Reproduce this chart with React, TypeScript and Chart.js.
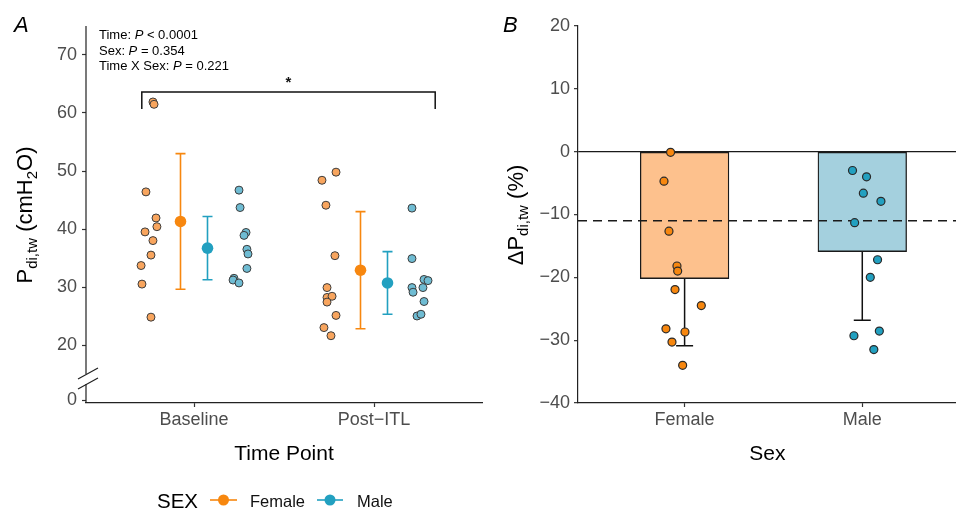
import React, { useEffect, useRef } from 'react';
import { Chart, registerables } from 'chart.js';

Chart.register(...registerables);

// ---------- Panel A data ----------
const timePoints = ['Baseline', 'Post\u2212ITL'];
const femaleBaseline = [61.9, 61.5, 46.4, 41.9, 40.4, 39.5, 38.0, 35.5, 33.7, 30.5, 24.8];
const femaleBaselineJitter = [-0.228, -0.222, -0.267, -0.211, -0.206, -0.272, -0.228, -0.239, -0.294, -0.289, -0.239];
const maleBaseline = [46.7, 43.7, 39.4, 38.9, 36.5, 35.7, 33.2, 31.5, 31.2, 30.7];
const maleBaselineJitter = [0.25, 0.256, 0.289, 0.278, 0.294, 0.3, 0.294, 0.222, 0.217, 0.25];
const femalePost = [48.4, 49.8, 44.1, 35.4, 29.9, 28.2, 28.4, 27.4, 25.1, 23.0, 21.6];
const femalePostJitter = [-0.289, -0.211, -0.267, -0.217, -0.261, -0.261, -0.233, -0.261, -0.211, -0.278, -0.239];
const malePost = [43.6, 34.9, 31.3, 31.1, 29.9, 29.1, 29.9, 27.5, 25.0, 25.3];
const malePostJitter = [0.211, 0.211, 0.278, 0.3, 0.211, 0.217, 0.272, 0.278, 0.239, 0.261];
const femaleMeanA = [41.3, 32.9];
const femaleSdA = [11.7, 10.1];
const maleMeanA = [36.7, 30.7];
const maleSdA = [5.45, 5.4];
const yTicksA = [20, 30, 40, 50, 60, 70];
const statLines = [
  ['Time: ', 'P', ' < 0.0001'],
  ['Sex: ', 'P', ' = 0.354'],
  ['Time X Sex: ', 'P', ' = 0.221'],
];

// ---------- Panel B data ----------
const sexes = ['Female', 'Male'];
const femaleChange = [-0.1, -4.7, -12.65, -18.2, -19.0, -21.95, -24.5, -28.2, -28.7, -30.3, -34.0];
const femaleChangeJitter = [-0.079, -0.116, -0.088, -0.043, -0.039, -0.054, 0.094, -0.105, 0.002, -0.071, -0.011];
const maleChange = [-3.0, -4.0, -6.6, -7.9, -11.3, -17.2, -20.0, -29.3, -28.55, -31.5];
const maleChangeJitter = [-0.055, 0.024, 0.006, 0.105, -0.043, 0.086, 0.045, -0.047, 0.096, 0.065];
const meanChange = [-20.2, -15.9];
const sdChange = [10.7, 10.95];
const referenceChange = -11;
const yTicksB = [-40, -30, -20, -10, 0, 10, 20];

// ---------- styling / layout constants ----------
const FONT = '"Liberation Sans", Arial, Helvetica, sans-serif';
const ORANGE = '#F7870F';
const BLUE = '#22A0C0';
const ORANGE_LIGHT = '#F8A55E';
const BLUE_LIGHT = '#6FBCD3';
const BAR_F = '#FDC18D';
const BAR_M = '#A4D0DE';
const AXIS = '#222222';
const TICK_TEXT = '#4D4D4D';
const DODGE = 0.075;
const BREAK_TICK = 10.5;
const A_X = { min: 0.4, max: 2.6 };
const A_Y = { min: 10, max: 75 };
const B_X = { min: 0.4, max: 2.532 };
const B_Y = { min: -40, max: 20 };
const BRACKET_X = [0.71, 2.34];
const BRACKET_Y = [63.6, 60.7];
const W_A = 490;
const W_B = 472; // a few px extra: Chart.js reserves a small right margin here
const H = 509;

const font = (size: number, italic = false, bold = false) =>
  `${italic ? 'italic ' : ''}${bold ? 'bold ' : ''}${size}px ${FONT}`;

type Seg = { t: string; size: number; italic?: boolean; dy?: number };

function drawSegs(ctx: CanvasRenderingContext2D, segs: Seg[], x: number, y: number, align: 'left' | 'center', color = '#000') {
  ctx.textAlign = 'left';
  ctx.textBaseline = 'alphabetic';
  ctx.fillStyle = color;
  let total = 0;
  for (const s of segs) {
    ctx.font = font(s.size, s.italic);
    total += ctx.measureText(s.t).width;
  }
  let cx = align === 'center' ? x - total / 2 : x;
  for (const s of segs) {
    ctx.font = font(s.size, s.italic);
    ctx.fillText(s.t, cx, y + (s.dy || 0));
    cx += ctx.measureText(s.t).width;
  }
}

function errorBar(ctx: CanvasRenderingContext2D, px: number, yTop: number, yBot: number, half: number) {
  ctx.beginPath();
  ctx.moveTo(px, yTop);
  ctx.lineTo(px, yBot);
  ctx.moveTo(px - half, yTop);
  ctx.lineTo(px + half, yTop);
  ctx.moveTo(px - half, yBot);
  ctx.lineTo(px + half, yBot);
  ctx.stroke();
}

const toPoints = (vals: number[], jit: number[], pos: number) => vals.map((v, i) => ({ x: pos + jit[i], y: v }));

const errorBarsA = {
  id: 'errorBarsA',
  beforeDatasetsDraw(chart: any) {
    const { ctx, scales } = chart;
    const x = scales.x, y = scales.y;
    ctx.save();
    ctx.lineWidth = 1.6;
    const groups = [
      { means: femaleMeanA, sds: femaleSdA, off: -DODGE, color: ORANGE },
      { means: maleMeanA, sds: maleSdA, off: DODGE, color: BLUE },
    ];
    for (const g of groups) {
      ctx.strokeStyle = g.color;
      g.means.forEach((m, i) => {
        const px = x.getPixelForValue(i + 1 + g.off);
        errorBar(ctx, px, y.getPixelForValue(m + g.sds[i]), y.getPixelForValue(m - g.sds[i]), 5);
      });
    }
    ctx.restore();
  },
};

const decorA = {
  id: 'decorA',
  afterDraw(chart: any) {
    const { ctx, chartArea: ca, scales } = chart;
    const x = scales.x, y = scales.y;
    ctx.save();
    // y axis line with break
    ctx.strokeStyle = AXIS;
    ctx.lineWidth = 1.2;
    ctx.beginPath();
    ctx.moveTo(ca.left, ca.top);
    ctx.lineTo(ca.left, ca.bottom - 29);
    ctx.moveTo(ca.left, ca.bottom - 19);
    ctx.lineTo(ca.left, ca.bottom);
    ctx.stroke();
    ctx.beginPath();
    ctx.moveTo(ca.left - 8, ca.bottom - 24);
    ctx.lineTo(ca.left + 12, ca.bottom - 35);
    ctx.moveTo(ca.left - 8, ca.bottom - 14);
    ctx.lineTo(ca.left + 12, ca.bottom - 25);
    ctx.stroke();

    // bracket + star
    const bx0 = x.getPixelForValue(BRACKET_X[0]);
    const bx1 = x.getPixelForValue(BRACKET_X[1]);
    const byTop = y.getPixelForValue(BRACKET_Y[0]);
    const byBot = y.getPixelForValue(BRACKET_Y[1]);
    ctx.strokeStyle = '#111';
    ctx.lineWidth = 1.5;
    ctx.beginPath();
    ctx.moveTo(bx0, byBot);
    ctx.lineTo(bx0, byTop);
    ctx.lineTo(bx1, byTop);
    ctx.lineTo(bx1, byBot);
    ctx.stroke();
    ctx.fillStyle = '#111';
    ctx.font = font(15, false, true);
    ctx.textAlign = 'center';
    ctx.textBaseline = 'alphabetic';
    ctx.fillText('*', (bx0 + bx1) / 2, byTop - 5);

    // stats text
    const baselines = [39, 54.5, 70];
    statLines.forEach((ln, i) => {
      drawSegs(ctx, [
        { t: ln[0], size: 13 },
        { t: ln[1], size: 13, italic: true },
        { t: ln[2], size: 13 },
      ], ca.left + 13, baselines[i], 'left', '#000');
    });

    // panel letter
    drawSegs(ctx, [{ t: 'A', size: 22, italic: true }], 14, 32, 'left', '#000');

    // y title
    ctx.save();
    ctx.translate(32, 215);
    ctx.rotate(-Math.PI / 2);
    drawSegs(ctx, [
      { t: 'P', size: 22 },
      { t: 'di,tw', size: 15, dy: 5 },
      { t: ' (cmH', size: 22 },
      { t: '2', size: 15, dy: 5 },
      { t: 'O)', size: 22 },
    ], 0, 0, 'center', '#000');
    ctx.restore();

    // x title
    drawSegs(ctx, [{ t: 'Time Point', size: 21 }], (ca.left + ca.right) / 2, 460, 'center', '#000');

    // legend
    drawSegs(ctx, [{ t: 'SEX', size: 20.5 }], 157, 508, 'left', '#000');
    const items = [
      { label: sexes[0], color: ORANGE, x0: 210, x1: 237, tx: 250 },
      { label: sexes[1], color: BLUE, x0: 317, x1: 343, tx: 357 },
    ];
    for (const it of items) {
      ctx.strokeStyle = it.color;
      ctx.lineWidth = 1.6;
      ctx.beginPath();
      ctx.moveTo(it.x0, 500);
      ctx.lineTo(it.x1, 500);
      ctx.stroke();
      ctx.fillStyle = it.color;
      ctx.beginPath();
      ctx.arc((it.x0 + it.x1) / 2, 500, 5.5, 0, Math.PI * 2);
      ctx.fill();
      drawSegs(ctx, [{ t: it.label, size: 16.5 }], it.tx, 507, 'left', '#111');
    }
    ctx.restore();
  },
};

const errorBarsB = {
  id: 'errorBarsB',
  beforeDatasetsDraw(chart: any) {
    const { ctx, scales } = chart;
    const x = scales.x, y = scales.y;
    ctx.save();
    ctx.strokeStyle = '#111';
    ctx.lineWidth = 1.5;
    meanChange.forEach((m, i) => {
      const px = x.getPixelForValue(i + 1);
      errorBar(ctx, px, y.getPixelForValue(m + sdChange[i]), y.getPixelForValue(m - sdChange[i]), 8.5);
    });
    ctx.restore();
  },
};

const decorB = {
  id: 'decorB',
  afterDraw(chart: any) {
    const { ctx, chartArea: ca } = chart;
    ctx.save();
    drawSegs(ctx, [{ t: 'B', size: 22, italic: true }], 13, 32, 'left', '#000');
    ctx.save();
    ctx.translate(33, 215);
    ctx.rotate(-Math.PI / 2);
    drawSegs(ctx, [
      { t: '\u0394P', size: 22 },
      { t: 'di,tw', size: 15, dy: 5 },
      { t: ' (%)', size: 22 },
    ], 0, 0, 'center', '#000');
    ctx.restore();
    drawSegs(ctx, [{ t: 'Sex', size: 21 }], (ca.left + ca.right) / 2, 460, 'center', '#000');
    ctx.restore();
  },
};

const tickFont = { family: FONT, size: 18 };
const minusFmt = (v: number) => (v < 0 ? '\u2212' + Math.abs(v) : String(v));

export default function App() {
  const refA = useRef<HTMLCanvasElement>(null);
  const refB = useRef<HTMLCanvasElement>(null);

  useEffect(() => {
    const chartA = new Chart(refA.current as HTMLCanvasElement, {
      type: 'scatter',
      data: {
        datasets: [
          {
            data: [
              { x: 1 - DODGE, y: femaleMeanA[0] },
              { x: 2 - DODGE, y: femaleMeanA[1] },
            ],
            pointRadius: 5.8,
            pointBackgroundColor: ORANGE,
            pointBorderColor: ORANGE,
            pointBorderWidth: 0,
            order: 1,
          },
          {
            data: [
              { x: 1 + DODGE, y: maleMeanA[0] },
              { x: 2 + DODGE, y: maleMeanA[1] },
            ],
            pointRadius: 5.8,
            pointBackgroundColor: BLUE,
            pointBorderColor: BLUE,
            pointBorderWidth: 0,
            order: 1,
          },
          {
            data: [...toPoints(femaleBaseline, femaleBaselineJitter, 1), ...toPoints(femalePost, femalePostJitter, 2)],
            pointRadius: 4,
            pointBackgroundColor: ORANGE_LIGHT,
            pointBorderColor: '#3c3c3c',
            pointBorderWidth: 1,
            order: 2,
          },
          {
            data: [...toPoints(maleBaseline, maleBaselineJitter, 1), ...toPoints(malePost, malePostJitter, 2)],
            pointRadius: 4,
            pointBackgroundColor: BLUE_LIGHT,
            pointBorderColor: '#3c3c3c',
            pointBorderWidth: 1,
            order: 2,
          },
        ],
      },
      options: {
        responsive: false,
        animation: false,
        devicePixelRatio: 1,
        events: [],
        layout: { padding: { top: 26, right: 8, left: 0, bottom: 0 } },
        plugins: { legend: { display: false }, tooltip: { enabled: false } },
        scales: {
          x: {
            type: 'linear',
            min: A_X.min,
            max: A_X.max,
            afterBuildTicks: (s: any) => {
              s.ticks = timePoints.map((_, i) => ({ value: i + 1 }));
            },
            afterFit: (s: any) => {
              s.height = 106;
            },
            ticks: {
              callback: (v: any) => timePoints[Math.round(v) - 1],
              color: TICK_TEXT,
              font: tickFont,
              padding: 2,
              maxRotation: 0,
              autoSkip: false,
            },
            grid: { drawOnChartArea: false, tickLength: 4, tickColor: '#333', tickWidth: 1.2 },
            border: { display: true, color: AXIS, width: 1.2 },
          },
          y: {
            type: 'linear',
            min: A_Y.min,
            max: A_Y.max,
            afterBuildTicks: (s: any) => {
              s.ticks = [BREAK_TICK, ...yTicksA].map((v) => ({ value: v }));
            },
            afterFit: (s: any) => {
              s.width = 86;
            },
            ticks: {
              callback: (v: any) => (v === BREAK_TICK ? '0' : String(v)),
              color: TICK_TEXT,
              font: tickFont,
              padding: 5,
              autoSkip: false,
            },
            grid: { drawOnChartArea: false, tickLength: 4, tickColor: '#333', tickWidth: 1.2 },
            border: { display: false },
          },
        },
      } as any,
      plugins: [errorBarsA, decorA],
    } as any);

    const plotWidthB = 956 - 578;
    const barPx = 0.5 * (plotWidthB / (B_X.max - B_X.min));

    const chartB = new Chart(refB.current as HTMLCanvasElement, {
      type: 'scatter',
      data: {
        datasets: [
          {
            type: 'bar',
            data: meanChange.map((m, i) => ({ x: i + 1, y: m })),
            backgroundColor: [BAR_F, BAR_M],
            borderColor: '#1a1a1a',
            borderWidth: 1.3,
            borderSkipped: false,
            barThickness: barPx,
            order: 3,
          },
          {
            type: 'line',
            data: [
              { x: B_X.min, y: referenceChange },
              { x: B_X.max, y: referenceChange },
            ],
            borderColor: '#1a1a1a',
            borderWidth: 1.4,
            borderDash: [9, 6],
            pointRadius: 0,
            fill: false,
            order: 2,
          },
          {
            type: 'scatter',
            data: toPoints(femaleChange, femaleChangeJitter, 1),
            pointRadius: 4,
            pointBackgroundColor: ORANGE,
            pointBorderColor: '#2a2a2a',
            pointBorderWidth: 1.2,
            order: 1,
          },
          {
            type: 'scatter',
            data: toPoints(maleChange, maleChangeJitter, 2),
            pointRadius: 4,
            pointBackgroundColor: BLUE,
            pointBorderColor: '#2a2a2a',
            pointBorderWidth: 1.2,
            order: 1,
          },
        ],
      },
      options: {
        responsive: false,
        animation: false,
        devicePixelRatio: 1,
        events: [],
        layout: { padding: { top: 26, right: 0, left: 0, bottom: 0 } },
        plugins: { legend: { display: false }, tooltip: { enabled: false } },
        scales: {
          x: {
            type: 'linear',
            min: B_X.min,
            max: B_X.max,
            offset: false,
            afterBuildTicks: (s: any) => {
              s.ticks = sexes.map((_, i) => ({ value: i + 1 }));
            },
            afterFit: (s: any) => {
              s.height = 106;
            },
            ticks: {
              callback: (v: any) => sexes[Math.round(v) - 1],
              color: TICK_TEXT,
              font: tickFont,
              padding: 2,
              maxRotation: 0,
              autoSkip: false,
            },
            grid: { offset: false, drawOnChartArea: false, tickLength: 4, tickColor: '#333', tickWidth: 1.2 },
            border: { display: true, color: AXIS, width: 1.2 },
          },
          y: {
            type: 'linear',
            min: B_Y.min,
            max: B_Y.max,
            afterBuildTicks: (s: any) => {
              s.ticks = yTicksB.map((v) => ({ value: v }));
            },
            afterFit: (s: any) => {
              s.width = 88;
            },
            ticks: {
              callback: (v: any) => minusFmt(v),
              color: TICK_TEXT,
              font: tickFont,
              padding: 4,
              autoSkip: false,
            },
            grid: {
              drawOnChartArea: true,
              color: (c: any) => (c.tick && c.tick.value === 0 ? '#1a1a1a' : 'rgba(0,0,0,0)'),
              lineWidth: 1.3,
              tickLength: 4,
              tickColor: '#333',
              tickWidth: 1.2,
            },
            border: { display: true, color: AXIS, width: 1.2 },
          },
        },
      } as any,
      plugins: [errorBarsB, decorB],
    } as any);

    return () => {
      chartA.destroy();
      chartB.destroy();
    };
  }, []);

  return (
    <div style={{ position: 'fixed', left: 0, top: 0, width: 956, height: H, background: '#fff', overflow: 'hidden' }}>
      <canvas ref={refA} width={W_A} height={H} style={{ position: 'absolute', left: 0, top: 0 }} />
      <canvas ref={refB} width={W_B} height={H} style={{ position: 'absolute', left: 490, top: 0 }} />
    </div>
  );
}
